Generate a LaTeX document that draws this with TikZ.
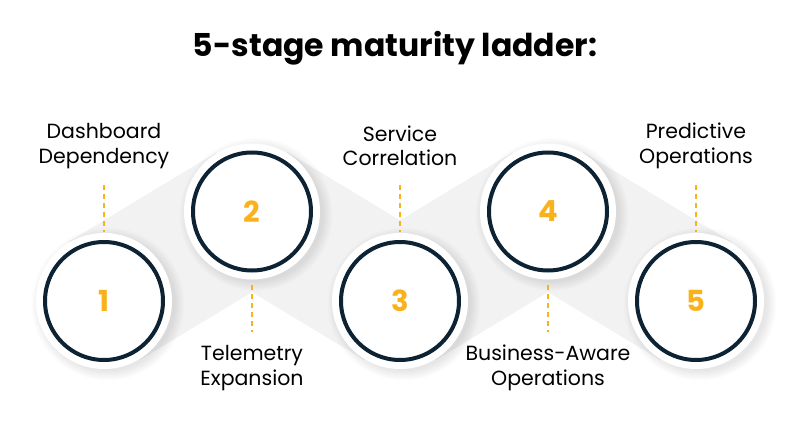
\documentclass[tikz,border=0pt]{standalone}
\usepackage{fontspec}
\setmainfont{Poppins}
\usetikzlibrary{calc}
\definecolor{ringc}{HTML}{0D2233}
\definecolor{numc}{HTML}{F9B21C}
\definecolor{bandc}{HTML}{F2F2F2}
\tikzset{
  disc/.style={circle,fill=white,minimum size=136pt,inner sep=0pt,font=\fontsize{29}{29}\selectfont\bfseries,text=numc},
  lbl/.style={align=center,font=\fontsize{20.5}{24.5}\selectfont,text=black,inner sep=0pt},
  dashln/.style={draw=numc,line width=1.1pt,dash pattern=on 5pt off 4pt},
}
\newcommand{\bandR}{69pt}
\begin{document}
\begin{tikzpicture}[x=1pt,y=-1pt]
\useasboundingbox (0,0) rectangle (800,430);
\fill[white] (0,0) rectangle (800,430);
% centers
\coordinate (p1) at (104,301);
\coordinate (p2) at (252,211.5);
\coordinate (p3) at (400,301);
\coordinate (p4) at (548,211.5);
\coordinate (p5) at (696,301);
% bands
\foreach \a/\b in {p1/p2,p2/p3,p3/p4,p4/p5}{
  \fill[bandc] ($(\a)!\bandR!90:(\b)$) -- ($(\b)!\bandR!-90:(\a)$) -- ($(\b)!\bandR!90:(\a)$) -- ($(\a)!\bandR!-90:(\b)$) -- cycle;
}
% shadows
\foreach \p in {p1,p2,p3,p4,p5}{
  \foreach \k in {1,...,8}{
    \fill[black,opacity=0.012] ($(\p)+(4,3)$) circle ({66+1.3*\k});
  }
}
% discs
\node[disc] (c1) at (p1) {1};
\node[disc] (c2) at (p2) {2};
\node[disc] (c3) at (p3) {3};
\node[disc] (c4) at (p4) {4};
\node[disc] (c5) at (p5) {5};
\foreach \c in {c1,c2,c3,c4,c5}{
  \draw[ringc,line width=4pt] (\c.center) circle (59);
}
% title
\node[font=\fontsize{31.5}{31.5}\selectfont\bfseries,text=black] (title) at (395,48) {5-stage maturity ladder:};
% labels
\node[lbl] (l1) at (104,146) {Dashboard\\Dependency};
\node[lbl] (l2) at (252,368) {Telemetry\\Expansion};
\node[lbl] (l3) at (400,146) {Service\\Correlation};
\node[lbl] (l4) at (548,368) {Business-Aware\\Operations};
\node[lbl] (l5) at (696,146) {Predictive\\Operations};
% dashed connectors
\coordinate (d1a) at (104,185); \coordinate (d1b) at (104,232);
\coordinate (d2a) at (252,285); \coordinate (d2b) at (252,332);
\coordinate (d3a) at (400,185); \coordinate (d3b) at (400,232);
\coordinate (d4a) at (548,285); \coordinate (d4b) at (548,332);
\coordinate (d5a) at (696,185); \coordinate (d5b) at (696,232);
\foreach \i in {1,...,5}{
  \draw[dashln] (d\i a) -- (d\i b);
}
\end{tikzpicture}
\end{document}
